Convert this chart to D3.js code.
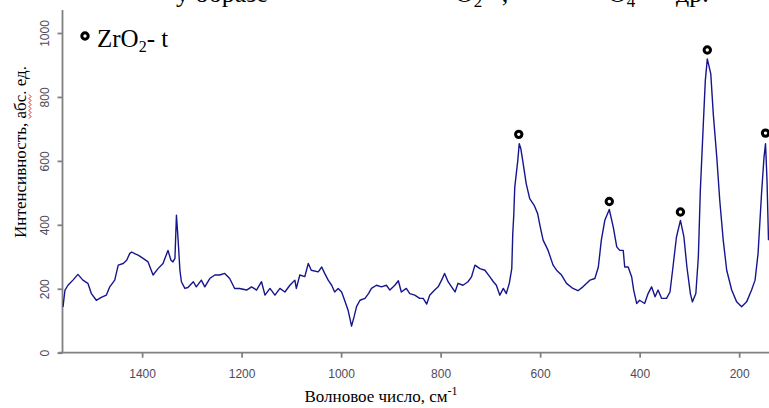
<!DOCTYPE html>
<html>
<head>
<meta charset="utf-8">
<script src="https://cdnjs.cloudflare.com/ajax/libs/d3/7.8.5/d3.min.js"></script>
<style>
html, body { margin: 0; padding: 0; background: #fff; }
svg { display: block; }
</style>
</head>
<body>
<svg id="chart" width="769" height="408"></svg>
<script>
// wavenumber (cm-1) and intensity
var wavenumbers = [1559,1555,1549,1539,1529,1519,1509,1502,1492,1482,1472,1465,1455,1448,1438,1431,1425,1421,1415,1408,
  1398,1388,1378,1368,1358,1348,1342,1338,1334,1331,1328,1324,1321,1314,1308,1297,1291,1281,1274,1264,
  1254,1244,1234,1224,1214,1204,1190,1180,1170,1160,1153,1143,1133,1123,1113,1103,1093,1090,1083,1073,
  1066,1060,1046,1039,1033,1026,1019,1013,1006,999,993,986,979,974,969,962,952,945,939,929,
  919,909,902,892,885,879,869,862,852,842,835,828,822,812,805,798,792,785,778,771,
  765,755,745,738,731,721,711,701,694,688,681,674,668,662,657,655,653,651,645,642,
  639,635,628,621,612,605,600,594,584,574,567,557,547,534,524,514,500,490,483,477,
  470,461,453,446,440,433,430,423,416,412,406,400,390,383,376,369,363,356,346,339,
  333,326,318,311,305,298,294,287,282,278,272,268,264,257,252,245,239,232,225,215,
  205,195,185,175,168,162,155,150,147,144,141];
var intensity = [143,196,211,227,245,227,217,185,164,173,180,206,227,274,279,289,310,315,310,305,
  295,284,243,263,279,320,289,284,295,430,362,258,222,201,204,222,206,227,206,232,
  243,243,248,232,201,201,196,206,196,222,180,201,180,201,190,211,227,201,243,238,
  279,258,253,268,248,227,211,190,201,190,164,133,83,112,144,164,170,185,201,211,
  206,211,196,211,225,190,201,185,180,170,170,152,180,196,206,227,248,222,206,190,
  217,211,222,237,274,263,258,237,222,211,180,201,185,217,263,373,430,518,600,654,
  640,601,529,482,461,435,395,352,320,274,258,243,217,201,194,206,227,232,268,352,
  414,448,393,331,320,320,268,268,237,196,154,164,154,185,206,175,196,170,170,190,
  268,362,414,362,268,185,159,185,300,508,716,851,919,872,747,612,477,352,258,196,
  159,144,159,196,227,310,498,612,654,539,352];

// ZrO2-t peak marks
var peakWave = [643, 461, 318, 264, 147];
var peakMark = [683, 473, 440, 947, 687];

var xTicks = [1400, 1200, 1000, 800, 600, 400, 200];
var yTicks = [0, 200, 400, 600, 800, 1000];

var svg = d3.select("#chart"),
    width = +svg.attr("width"),
    height = +svg.attr("height");

var plotLeft = 62.5, plotTop = 10, plotBottom = 352.7;

var x = d3.scaleLinear().domain([1560, 140]).range([plotLeft, width]);
var y = d3.scaleLinear().domain([0, 1072]).range([plotBottom, plotTop]);

var spectrum = wavenumbers.map(function(d, i) { return [d, intensity[i]]; });
var peaks = peakWave.map(function(d, i) { return [d, peakMark[i]]; });

// piece of the document text cut by the top edge
var cut = svg.append("text")
  .attr("y", 2)
  .style("font-family", "'Liberation Serif', 'DejaVu Serif', serif")
  .style("font-size", "26px")
  .style("fill", "#000");
cut.append("tspan").attr("x", 176).text("у образе");
cut.append("tspan").attr("x", 455).text("О");
cut.append("tspan").attr("dy", 5).style("font-size", "17px").text("2");
cut.append("tspan").attr("dy", -5).text(" –,");
cut.append("tspan").attr("x", 608).text("О");
cut.append("tspan").attr("dy", 5).style("font-size", "17px").text("4");
cut.append("tspan").attr("dy", -5).attr("x", 676).text("др.");

svg.append("clipPath").attr("id", "plotclip")
  .append("rect")
  .attr("x", plotLeft).attr("y", 0)
  .attr("width", width - plotLeft).attr("height", plotBottom);

// axes
var xAxis = svg.append("g")
  .attr("transform", "translate(0," + plotBottom + ")")
  .call(d3.axisBottom(x).tickValues(xTicks).tickFormat(d3.format("d"))
    .tickSize(5).tickSizeOuter(0).tickPadding(12));

var yAxis = svg.append("g")
  .attr("transform", "translate(" + plotLeft + ",0)")
  .call(d3.axisLeft(y).tickValues(yTicks).tickFormat(d3.format("d"))
    .tickSize(5).tickSizeOuter(0));

xAxis.select(".domain").attr("d", "M" + (plotLeft - 4) + ",0H" + width);
yAxis.select(".domain").attr("d", "M0," + plotTop + "V" + plotBottom);

svg.selectAll(".domain, .tick line")
  .attr("stroke", "#808080")
  .attr("stroke-width", 1.8);

xAxis.selectAll(".tick text")
  .style("font-family", "'Liberation Sans', Arial, sans-serif")
  .style("font-size", "12px")
  .style("fill", "#4f4a58");

yAxis.selectAll(".tick text")
  .attr("x", null).attr("dy", null)
  .attr("text-anchor", "middle")
  .attr("transform", "translate(-18,0) rotate(-90) translate(0,4)")
  .style("font-family", "'Liberation Sans', Arial, sans-serif")
  .style("font-size", "12px")
  .style("fill", "#4f4a58");

// spectrum line
svg.append("path")
  .datum(spectrum)
  .attr("clip-path", "url(#plotclip)")
  .attr("fill", "none")
  .attr("stroke", "#16168c")
  .attr("stroke-width", 1.4)
  .attr("stroke-linejoin", "round")
  .attr("d", d3.line()
    .x(function(d) { return x(d[0]); })
    .y(function(d) { return y(d[1]); }));

// peak rings
svg.selectAll(".peak")
  .data(peaks)
  .enter().append("circle")
  .attr("class", "peak")
  .attr("cx", function(d) { return x(d[0]); })
  .attr("cy", function(d) { return y(d[1]); })
  .attr("r", 3.2)
  .attr("fill", "#fff")
  .attr("stroke", "#000")
  .attr("stroke-width", 3);

// legend
svg.append("circle").attr("cx", 85).attr("cy", 36).attr("r", 3.2)
  .attr("fill", "#fff").attr("stroke", "#000").attr("stroke-width", 3);
var leg = svg.append("text")
  .attr("x", 97).attr("y", 47)
  .style("font-family", "'Liberation Serif', 'DejaVu Serif', serif")
  .style("font-size", "25px")
  .style("fill", "#000");
leg.append("tspan").text("ZrO");
leg.append("tspan").attr("dy", 5).style("font-size", "16px").text("2");
leg.append("tspan").attr("dy", -5).text("- t");

// axis titles
svg.append("text")
  .attr("x", 381).attr("y", 402)
  .attr("text-anchor", "middle")
  .style("font-family", "'Liberation Serif', 'DejaVu Serif', serif")
  .style("font-size", "17px")
  .style("fill", "#000")
  .call(function(t) {
    t.append("tspan").text("Волновое число, см");
    t.append("tspan").attr("dy", -7).style("font-size", "12px").text("-1");
  });

var yTitleG = svg.append("g").attr("transform", "translate(26,152) rotate(-90)");
var yTitle = yTitleG.append("text")
  .attr("x", 0).attr("y", 0)
  .attr("text-anchor", "middle")
  .style("font-family", "'Liberation Serif', 'DejaVu Serif', serif")
  .style("font-size", "17px")
  .style("fill", "#000")
  .text("Интенсивность, абс. ед.");

// red spell-check squiggle under "абс"
var label = "Интенсивность, абс. ед.";
var node = yTitle.node();
var total = node.getComputedTextLength();
var i0 = label.indexOf("абс");
var sx = -total / 2 + node.getSubStringLength(0, i0);
var sw = node.getSubStringLength(i0, 3);
var sq = "M" + sx + ",3";
for (var k = 0; sx + k * 2 < sx + sw; k++) {
  sq += "L" + (sx + (k + 1) * 2) + "," + (k % 2 ? 3 : 5);
}
yTitleG.append("path").attr("d", sq)
  .attr("fill", "none").attr("stroke", "#e0201a").attr("stroke-width", 1);
</script>
</body>
</html>
